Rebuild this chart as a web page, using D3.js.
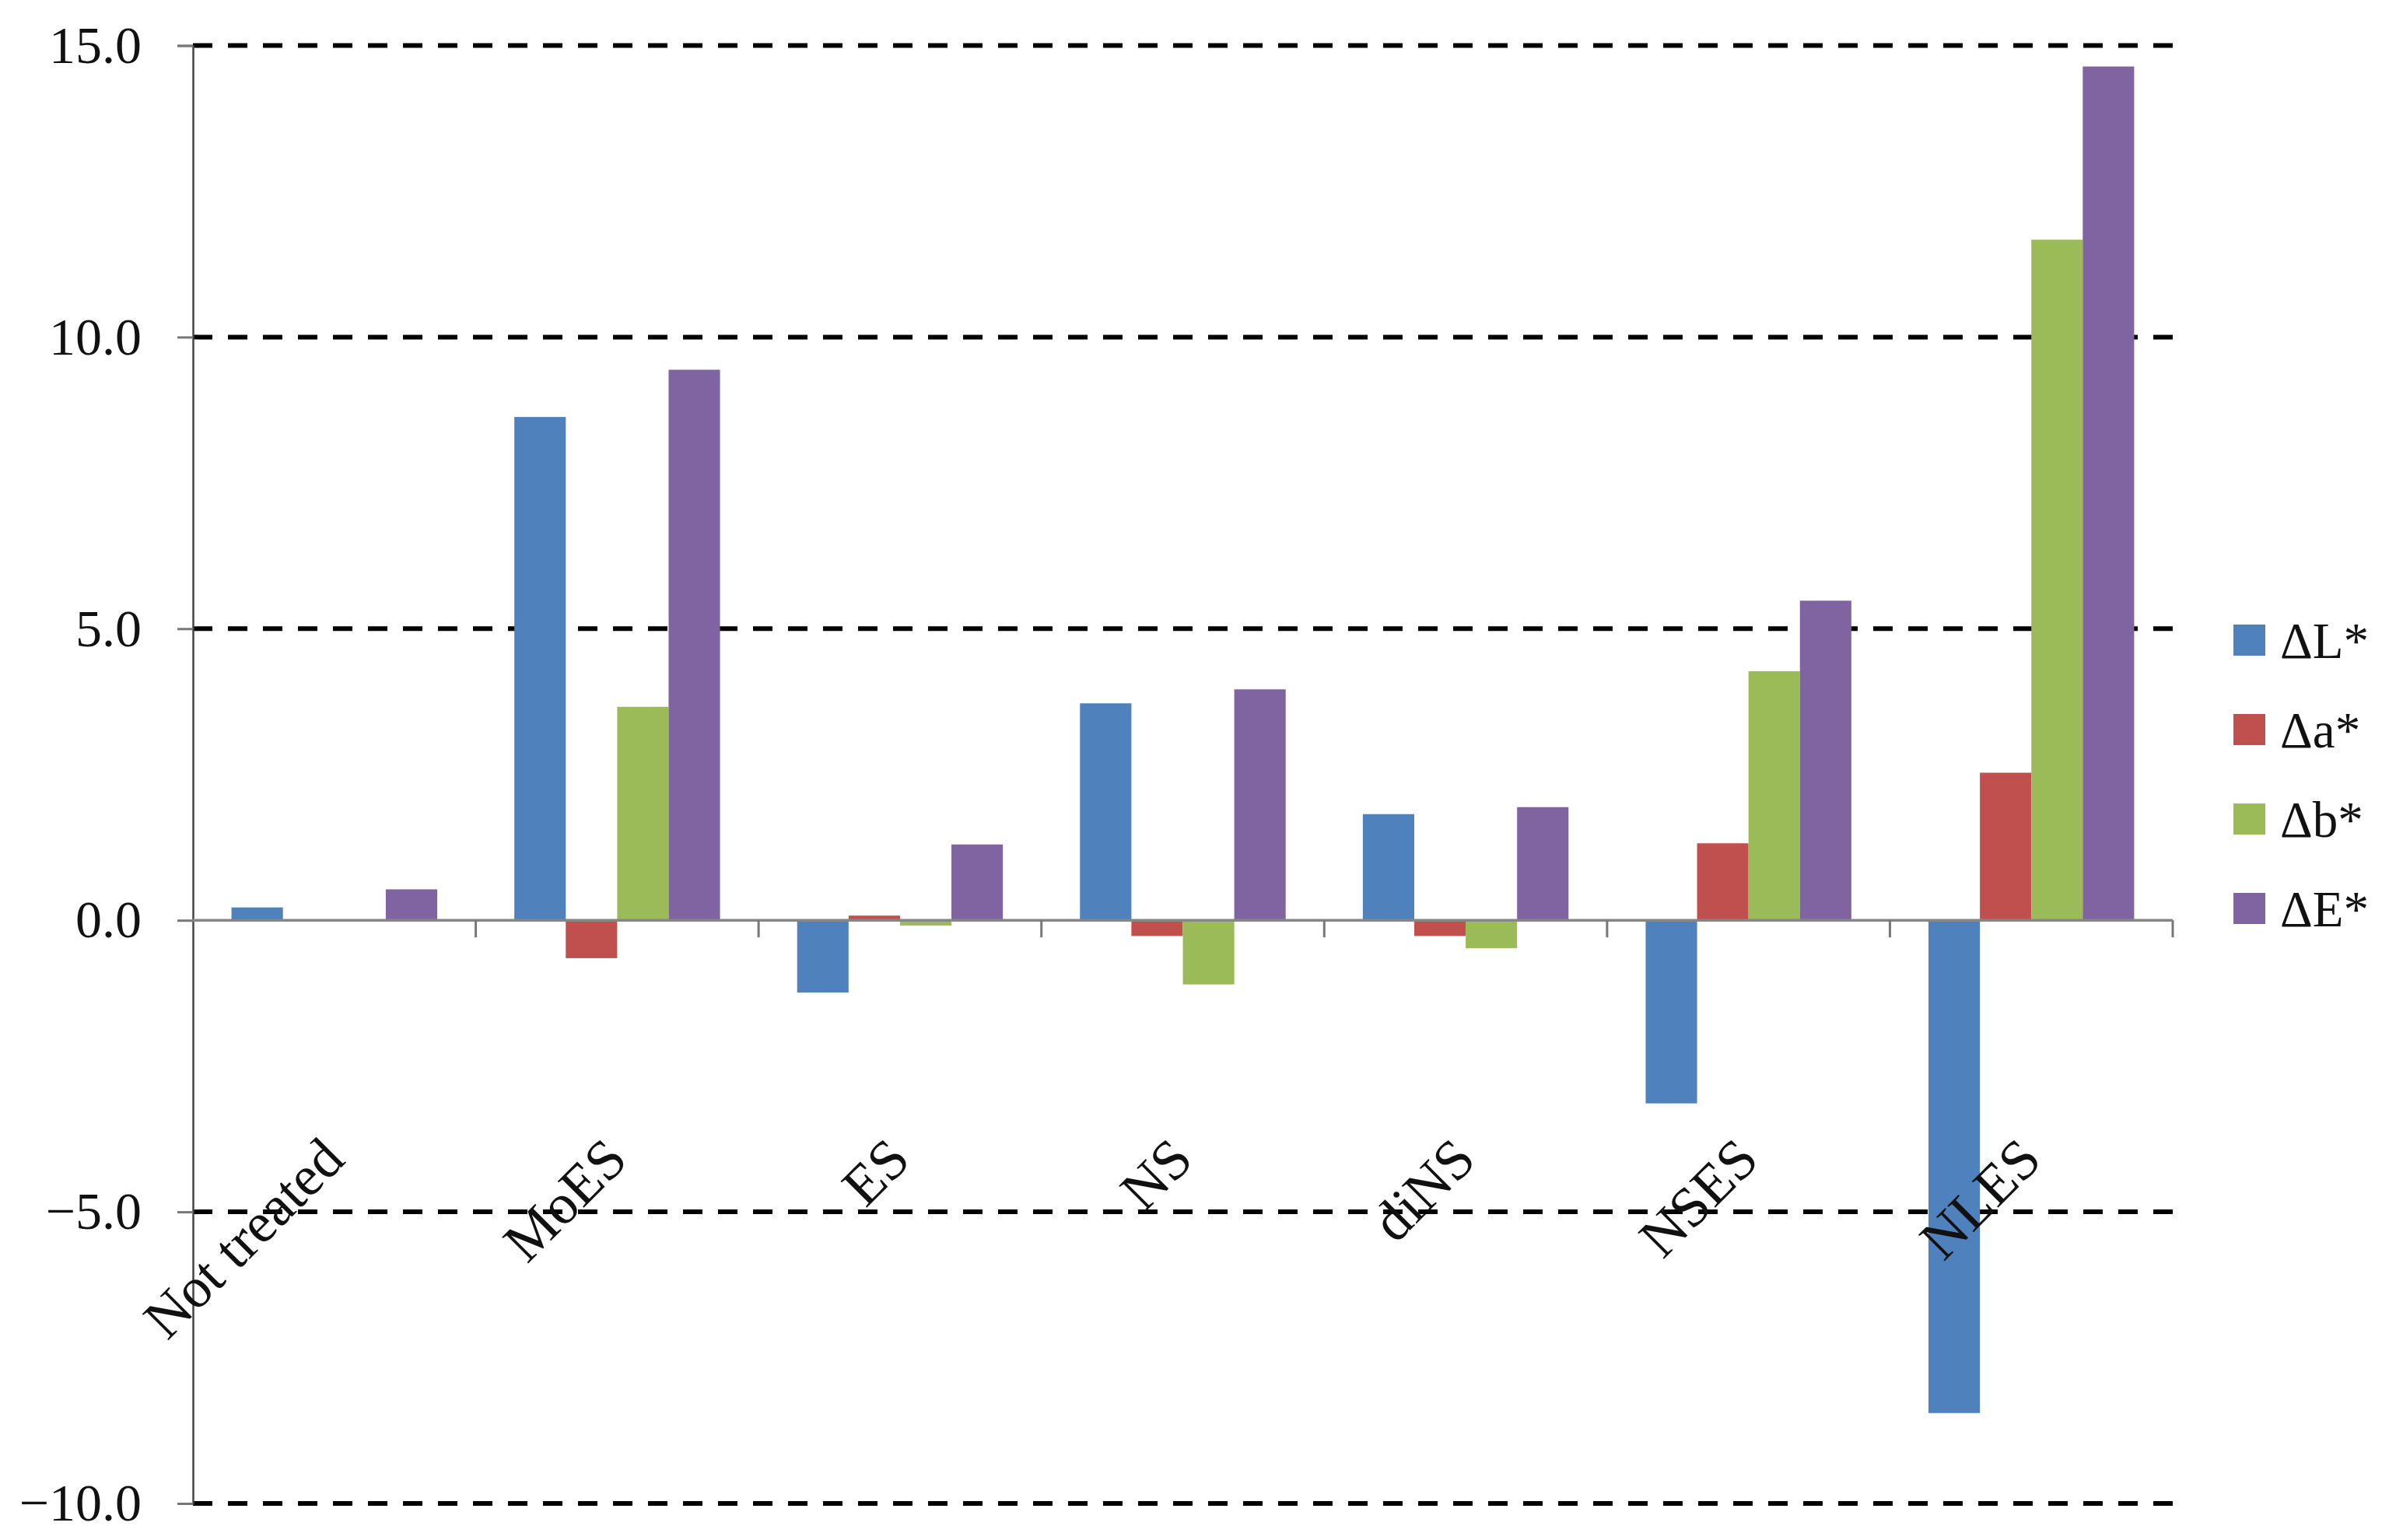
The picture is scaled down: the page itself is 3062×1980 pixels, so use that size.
<!DOCTYPE html>
<html>
<head>
<meta charset="utf-8">
<script src="https://cdn.jsdelivr.net/npm/d3@7/dist/d3.min.js"></script>
<style>
  html, body { margin: 0; padding: 0; background: #ffffff; }
  svg { display: block; }
  text { font-family: "Palatino Linotype", "Book Antiqua", Palatino, "Liberation Serif", "Times New Roman", serif; fill: #111; }
</style>
</head>
<body>
<svg id="chart" width="3062" height="1980"></svg>
<script>
// ---- data ----
const categories = ["Not treated", "MoES", "ES", "NS", "diNS", "NSES", "NLES"];
const seriesNames = ["\u0394L*", "\u0394a*", "\u0394b*", "\u0394E*"];
const dL = [0.22, 8.63, -1.24, 3.72, 1.82, -3.14, -8.45];
const da = [-0.02, -0.65, 0.08, -0.27, -0.27, 1.32, 2.53];
const db = [-0.02, 3.66, -0.09, -1.10, -0.48, 4.27, 11.67];
const dE = [0.53, 9.44, 1.30, 3.96, 1.94, 5.48, 14.64];
const yTicks = [-10, -5, 0, 5, 10, 15];
const yTickLabels = ["\u221210.0", "\u22125.0", "0.0", "5.0", "10.0", "15.0"];
const colors = ["#4F81BD", "#C0504D", "#9BBB59", "#8064A2"];

const seriesValues = [dL, da, db, dE];

// ---- layout ----
const svg = d3.select("#chart");
svg.append("rect").attr("width", 3062).attr("height", 1980).attr("fill", "#fff");

const plotLeft = 248, plotRight = 2793, plotTop = 58.5, plotBottom = 1933;

const x0 = d3.scaleBand().domain(categories).range([plotLeft, plotRight]).padding(0);
const x1 = d3.scaleBand().domain(seriesNames).range([0, x0.bandwidth()]).paddingInner(0).paddingOuter(0.75);
const y = d3.scaleLinear().domain([-10, 15]).range([plotBottom, plotTop]);
const color = d3.scaleOrdinal().domain(seriesNames).range(colors);

// gridlines (dashed)
svg.append("g").selectAll("line")
  .data(yTicks.filter(d => d !== 0))
  .join("line")
  .attr("x1", plotLeft).attr("x2", plotRight)
  .attr("y1", d => y(d)).attr("y2", d => y(d))
  .attr("stroke", "#000").attr("stroke-width", 6)
  .attr("stroke-dasharray", "25 20");

// bars
const rows = categories.map((c, i) => ({ cat: c, vals: seriesNames.map((s, j) => ({ s, v: seriesValues[j][i] })) }));
const groups = svg.append("g").selectAll("g")
  .data(rows).join("g")
  .attr("transform", d => `translate(${x0(d.cat)},0)`);
groups.selectAll("rect")
  .data(d => d.vals).join("rect")
  .attr("x", d => x1(d.s))
  .attr("width", x1.bandwidth())
  .attr("y", d => Math.min(y(d.v), y(0)))
  .attr("height", d => Math.abs(y(d.v) - y(0)))
  .attr("fill", d => color(d.s));

// y axis
const yAxis = d3.axisLeft(y)
  .tickValues(yTicks)
  .tickSize(20)
  .tickPadding(46)
  .tickFormat((d, i) => yTickLabels[i]);
const gy = svg.append("g").attr("transform", `translate(${plotLeft},0)`).call(yAxis);
gy.select(".domain").attr("stroke", "#444").attr("stroke-width", 2.5);
gy.selectAll(".tick line").attr("stroke", "#777").attr("stroke-width", 3);
gy.selectAll(".tick text")
  .attr("font-size", 68)
  .attr("font-family", "'Palatino Linotype', 'Book Antiqua', Palatino, 'Liberation Serif', serif")
  .attr("fill", "#111");

// x axis (at zero)
const gx = svg.append("g");
gx.append("line")
  .attr("x1", plotLeft).attr("x2", plotRight)
  .attr("y1", y(0)).attr("y2", y(0))
  .attr("stroke", "#868686").attr("stroke-width", 3.5);
const boundaries = categories.map(c => x0(c)).concat([x0.range()[1]]);
gx.selectAll("line.tk")
  .data(boundaries.slice(1))
  .join("line")
  .attr("class", "tk")
  .attr("x1", d => d).attr("x2", d => d)
  .attr("y1", y(0)).attr("y2", y(0) + 22)
  .attr("stroke", "#777").attr("stroke-width", 3);

// category labels (rotated)
svg.append("g").selectAll("text")
  .data(categories).join("text")
  .attr("transform", d => `translate(${x0(d) + x0.bandwidth() / 2 + 16},1494) rotate(-45)`)
  .attr("text-anchor", "end")
  .attr("font-size", 73)
  .text(d => d);

// legend
const legend = svg.append("g").selectAll("g")
  .data(seriesNames).join("g")
  .attr("transform", (d, i) => `translate(2871,${823 + i * 115})`);
legend.append("rect")
  .attr("x", 0).attr("y", -20).attr("width", 41).attr("height", 40)
  .attr("fill", d => color(d));
legend.append("text")
  .attr("x", 60).attr("y", 23)
  .attr("font-size", 65)
  .text(d => d);
</script>
</body>
</html>
